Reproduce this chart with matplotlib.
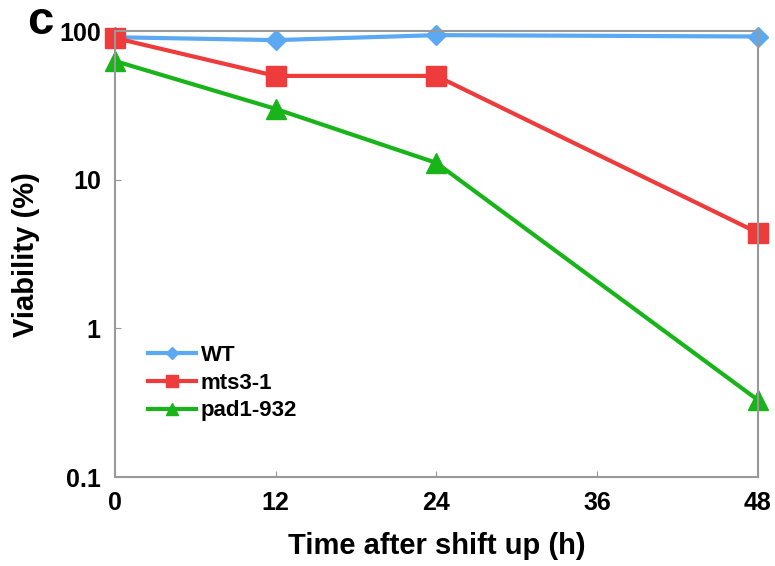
import matplotlib.pyplot as plt
from matplotlib.ticker import FixedLocator, FixedFormatter, NullLocator

plt.rcParams['font.family'] = ['Liberation Sans', 'DejaVu Sans']

hours = [0, 12, 24, 48]
wt = [91, 87, 94, 92]
mts3 = [90, 50, 50, 4.4]
pad1 = [63, 30, 13, 0.33]

fig = plt.figure(figsize=(7.75, 5.66), dpi=100)
ax = fig.add_axes([0.148, 0.157, 0.83, 0.788])

ax.plot(hours, wt, color='#5aa9f2', lw=3, marker='D', ms=10, label='WT')
ax.plot(hours, mts3, color='#ee3b3b', lw=3, marker='s', ms=14, label='mts3-1')
ax.plot(hours, pad1, color='#19b419', lw=3, marker='^', ms=14, label='pad1-932')

ax.set_yscale('log')
ax.set_ylim(0.1, 100)
ax.set_xlim(0, 48)
ax.yaxis.set_major_locator(FixedLocator([0.1, 1, 10, 100]))
ax.yaxis.set_major_formatter(FixedFormatter(['0.1', '1', '10', '100']))
ax.yaxis.set_minor_locator(NullLocator())
ax.set_xticks([0, 12, 24, 36, 48])
ax.tick_params(axis='both', direction='in', length=4, color='#999999',
               labelsize=18, pad=10)
for lab in ax.get_xticklabels() + ax.get_yticklabels():
    lab.set_fontweight('bold')
for s in ax.spines.values():
    s.set_color('#999999')
    s.set_linewidth(1.5)
for line in ax.lines:
    line.set_clip_on(False)

ax.set_xlabel('Time after shift up (h)', fontsize=21, fontweight='bold', labelpad=12)
ax.set_ylabel('Viability (%)', fontsize=21, fontweight='bold', labelpad=14)

leg = ax.legend(loc='lower left', bbox_to_anchor=(0.02, 0.08), frameon=False,
                fontsize=16, handlelength=2.2, handletextpad=0.2,
                labelspacing=0.3, markerscale=0.6)
for t in leg.get_texts():
    t.set_fontweight('bold')

fig.text(0.035, 1.0, 'c', fontsize=34, fontweight='bold', va='top')

fig.savefig('out.png')
